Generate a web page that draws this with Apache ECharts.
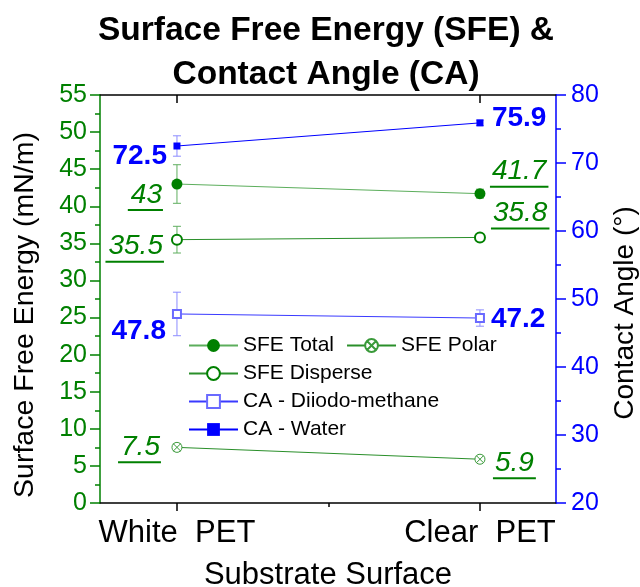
<!DOCTYPE html>
<html><head><meta charset="utf-8">
<script src="https://cdn.jsdelivr.net/npm/echarts@6/dist/echarts.min.js"></script>
<style>html,body{margin:0;padding:0;background:#fff}#c{width:640px;height:587px}</style>
</head><body><div id="c"></div>
<script>
// ---- data ----
const categories = ['White  PET', 'Clear  PET'];
const sfeTotal = [43, 41.7];
const sfeTotalErr = [2.6, 0.6];
const sfeDisperse = [35.5, 35.8];
const sfeDisperseErr = [1.8, 0.3];
const sfePolar = [7.5, 5.9];
const sfePolarErr = [0.5, 0.3];
const caDiiodo = [47.8, 47.2];
const caDiiodoErr = [3.2, 1.2];
const caWater = [72.5, 75.9];
const caWaterErr = [1.5, 0.4];
const leftTicks = [0, 55, 5];
const rightTicks = [20, 80, 10];

// ---- styles ----
const FONT = '"Liberation Sans", Arial, sans-serif';
const GREEN = '#008000';
const BLUE = '#0000ff';
const xs = categories.map((c, i) => i);

const cv = document.createElement('canvas').getContext('2d');
function textW(t, font) { cv.font = font; return cv.measureText(t).width; }

function errSeries(vals, errs, color, yIdx) {
  return {
    type: 'custom', yAxisIndex: yIdx, z: 1, silent: true,
    data: xs.map((x, i) => [x, vals[i] - errs[i], vals[i] + errs[i]]),
    encode: { x: 0, y: [1, 2] },
    renderItem: function (params, api) {
      const x = api.value(0);
      const a = api.coord([x, api.value(2)]);
      const b = api.coord([x, api.value(1)]);
      const w = 4;
      const st = { stroke: color, lineWidth: 1 };
      return { type: 'group', children: [
        { type: 'line', shape: { x1: a[0], y1: a[1], x2: b[0], y2: b[1] }, style: st },
        { type: 'line', shape: { x1: a[0] - w, y1: a[1], x2: a[0] + w, y2: a[1] }, style: st },
        { type: 'line', shape: { x1: b[0] - w, y1: b[1], x2: b[0] + w, y2: b[1] }, style: st }
      ]};
    }
  };
}

// label offsets: [dx, dy] relative to the data point
function labelSeries(vals, yIdx, offsets, color, italicUnder) {
  const font = italicUnder ? ('italic 28px ' + FONT) : ('bold 28px ' + FONT);
  return {
    type: 'custom', yAxisIndex: yIdx, z: 5, silent: true,
    data: xs.map((x, i) => [x, vals[i]]),
    encode: { x: 0, y: 1 },
    renderItem: function (params, api) {
      const i = params.dataIndex;
      const p = api.coord([api.value(0), api.value(1)]);
      const o = offsets[i];
      const txt = String(vals[i]);
      const tx = p[0] + o[0], ty = p[1] + o[1];
      const left = o[0] >= 0;
      const children = [{
        type: 'text', x: tx, y: ty,
        style: { text: txt, fill: color, font: font, textAlign: left ? 'left' : 'right', textVerticalAlign: 'middle' }
      }];
      if (italicUnder) {
        const w = textW(txt, font);
        const x0 = left ? tx - 2 : tx - w - 3;
        children.push({ type: 'rect', shape: { x: x0, y: ty + 14, width: w + 4, height: 2 }, style: { fill: color } });
      }
      return { type: 'group', children: children };
    }
  };
}

const xRange = { min: -0.254, max: 1.251 };

const option = {
  animation: false,
  backgroundColor: '#fff',
  textStyle: { fontFamily: FONT },
  title: {
    text: 'Surface Free Energy (SFE) &\nContact Angle (CA)',
    left: 321, top: 4, textAlign: 'center',
    textStyle: { fontFamily: FONT, fontSize: 33.5, fontWeight: 'bold', color: '#000', lineHeight: 44 }
  },
  grid: { left: 100, right: 84, top: 95, bottom: 84, containLabel: false, outerBoundsMode: 'none' },
  legend: [
    {
      data: ['SFE Total', 'SFE Polar'], orient: 'horizontal', left: 188, top: 335, padding: 0,
      itemWidth: 49, itemHeight: 16, itemGap: 12,
      textStyle: { fontFamily: FONT, fontSize: 21, color: '#000', lineHeight: 20 }, selectedMode: false
    },
    {
      data: ['SFE Disperse', 'CA - Diiodo-methane', 'CA - Water'], orient: 'vertical', left: 188, top: 363, padding: 0,
      itemWidth: 49, itemHeight: 16, itemGap: 7,
      textStyle: { fontFamily: FONT, fontSize: 21, color: '#000', lineHeight: 20 }, selectedMode: false
    }
  ],
  xAxis: [
    {
      type: 'value', position: 'bottom', min: xRange.min, max: xRange.max,
      name: 'Substrate Surface', nameLocation: 'middle', nameGap: 57,
      nameTextStyle: { fontFamily: FONT, fontSize: 31, color: '#000' },
      axisLine: { show: true, onZero: false, lineStyle: { color: '#000', width: 1.5 } },
      axisTick: { show: true, customValues: xs, length: 8, lineStyle: { color: '#000', width: 1.5 } },
      axisLabel: { show: true, customValues: xs, fontSize: 31, color: '#000', margin: 15, fontFamily: FONT,
        formatter: v => categories[Math.round(v)] },
      splitLine: { show: false }
    },
    {
      type: 'value', position: 'bottom', min: xRange.min, max: xRange.max,
      axisLine: { show: false, onZero: false },
      axisTick: { show: true, customValues: [0.5], length: 4, lineStyle: { color: '#000', width: 1.5 } },
      axisLabel: { show: false }, splitLine: { show: false }
    },
    {
      type: 'value', position: 'top', min: xRange.min, max: xRange.max,
      axisLine: { show: true, onZero: false, lineStyle: { color: '#000', width: 1.5 } },
      axisTick: { show: true, inside: true, customValues: xs, length: 8, lineStyle: { color: '#000', width: 1.5 } },
      axisLabel: { show: false }, splitLine: { show: false }
    }
  ],
  yAxis: [
    {
      type: 'value', position: 'left', min: leftTicks[0], max: leftTicks[1], interval: leftTicks[2],
      name: 'Surface Free Energy (mN/m)', nameLocation: 'middle', nameGap: 60,
      nameTextStyle: { fontFamily: FONT, fontSize: 28.5, color: '#000', padding: [0, 32, 0, 0] },
      axisLine: { show: true, onZero: false, lineStyle: { color: GREEN, width: 1.5 } },
      axisTick: { show: true, length: 10, lineStyle: { color: GREEN, width: 1.5 } },
      minorTick: { show: true, splitNumber: 2, length: 5, lineStyle: { color: GREEN, width: 1.5 } },
      axisLabel: { fontSize: 25, color: GREEN, margin: 13, fontFamily: FONT },
      splitLine: { show: false }, minorSplitLine: { show: false }
    },
    {
      type: 'value', position: 'right', min: rightTicks[0], max: rightTicks[1], interval: rightTicks[2],
      name: 'Contact Angle (°)', nameLocation: 'middle', nameGap: 55,
      nameTextStyle: { fontFamily: FONT, fontSize: 28, color: '#000', padding: [0, 28, 0, 0] },
      axisLine: { show: true, onZero: false, lineStyle: { color: BLUE, width: 1.5 } },
      axisTick: { show: true, length: 10, lineStyle: { color: BLUE, width: 1.5 } },
      minorTick: { show: true, splitNumber: 2, length: 5, lineStyle: { color: BLUE, width: 1.5 } },
      axisLabel: { fontSize: 25, color: BLUE, margin: 15, fontFamily: FONT },
      splitLine: { show: false }, minorSplitLine: { show: false }
    }
  ],
  series: [
    errSeries(sfeTotal, sfeTotalErr, '#5fae5f', 0),
    errSeries(sfeDisperse, sfeDisperseErr, '#5fae5f', 0),
    errSeries(sfePolar, sfePolarErr, '#5fae5f', 0),
    errSeries(caDiiodo, caDiiodoErr, '#8c8cff', 1),
    errSeries(caWater, caWaterErr, '#8c8cff', 1),
    {
      name: 'SFE Total', type: 'line', yAxisIndex: 0, z: 3,
      data: xs.map((x, i) => [x, sfeTotal[i]]),
      symbol: 'circle', symbolSize: 11,
      itemStyle: { color: GREEN },
      lineStyle: { color: '#5cae5c', width: 1 }
    },
    {
      name: 'SFE Polar', type: 'line', yAxisIndex: 0, z: 3,
      data: xs.map((x, i) => [x, sfePolar[i]]),
      symbol: 'path://M10,0A10,10,0,1,1,10,20A10,10,0,1,1,10,0ZM2.93,2.93L17.07,17.07M17.07,2.93L2.93,17.07',
      symbolSize: 10,
      itemStyle: { color: '#ffffff', borderColor: '#3a9a3a', borderWidth: 1 },
      lineStyle: { color: '#2a8f2a', width: 1 }
    },
    {
      name: 'SFE Disperse', type: 'line', yAxisIndex: 0, z: 3,
      data: xs.map((x, i) => [x, sfeDisperse[i]]),
      symbol: 'emptyCircle', symbolSize: 10,
      itemStyle: { color: GREEN, borderWidth: 1 },
      lineStyle: { color: '#2a8f2a', width: 1 }
    },
    {
      name: 'CA - Diiodo-methane', type: 'line', yAxisIndex: 1, z: 3,
      data: xs.map((x, i) => [x, caDiiodo[i]]),
      symbol: 'emptyRect', symbolSize: 8,
      itemStyle: { color: '#6a6aff', borderWidth: 1 },
      lineStyle: { color: '#3a3aff', width: 1 }
    },
    {
      name: 'CA - Water', type: 'line', yAxisIndex: 1, z: 3,
      data: xs.map((x, i) => [x, caWater[i]]),
      symbol: 'rect', symbolSize: 7,
      itemStyle: { color: BLUE },
      lineStyle: { color: BLUE, width: 1 }
    },
    labelSeries(sfeTotal, 0, [[-15, 11], [12, -22]], GREEN, true),
    labelSeries(sfeDisperse, 0, [[-14, 7], [13, -24]], GREEN, true),
    labelSeries(sfePolar, 0, [[-17, 0], [15, 4]], GREEN, true),
    labelSeries(caWater, 1, [[-10, 10], [12, -5]], BLUE, false),
    labelSeries(caDiiodo, 1, [[-11, 17], [11, 1]], BLUE, false)
  ]
};

const chart = echarts.init(document.getElementById('c'), null, { renderer: 'canvas' });
chart.setOption(option);
</script>
</body></html>
